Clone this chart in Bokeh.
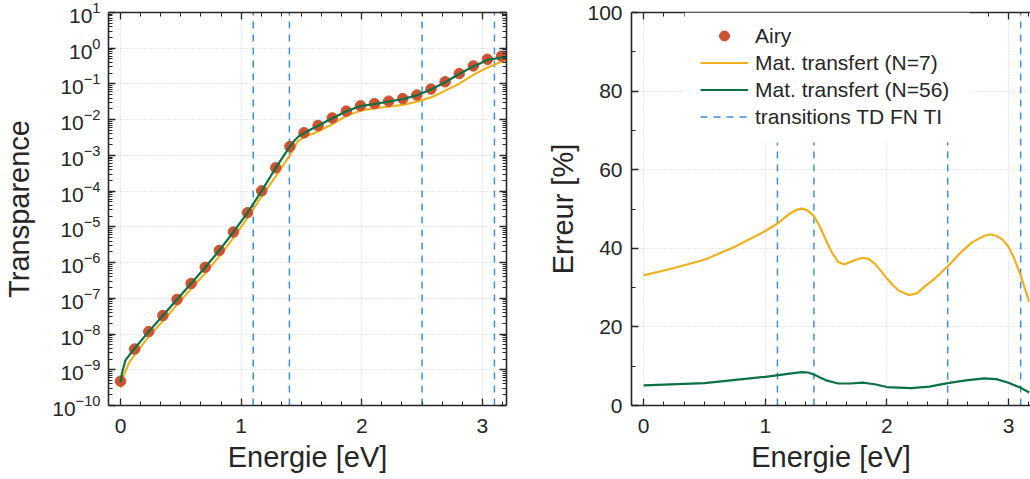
from bokeh.plotting import figure
from bokeh.models import (ColumnDataSource, FixedTicker, LinearAxis, Legend, BoxAnnotation,
                          LegendItem, LogTickFormatter, Range1d, CustomJSTickFormatter)
from bokeh.layouts import row
from bokeh.embed import file_html
from bokeh.resources import INLINE

# ---------------- data ----------------
transitions = [1.1, 1.4, 2.5, 3.1]

airy_x = [0.000, 0.117, 0.234, 0.351, 0.468, 0.585, 0.702, 0.819, 0.936, 1.053,
          1.170, 1.287, 1.404, 1.521, 1.638, 1.755, 1.872, 1.989, 2.106, 2.223,
          2.340, 2.457, 2.574, 2.691, 2.808, 2.925, 3.042, 3.159]
airy_T = [4.8e-10, 3.8e-9, 1.17e-8, 3.3e-8, 9.3e-8, 2.6e-7, 7.4e-7, 2.2e-6, 7.2e-6, 2.5e-5,
          1.02e-4, 4.5e-4, 1.78e-3, 4.3e-3, 6.9e-3, 1.12e-2, 1.74e-2, 2.45e-2, 2.8e-2, 3.3e-2,
          3.9e-2, 4.9e-2, 7.2e-2, 0.115, 0.195, 0.32, 0.49, 0.60]

n56_x = [0.000, 0.014, 0.041, 0.117, 0.234, 0.351, 0.468, 0.585, 0.702, 0.819, 0.936, 1.053,
         1.170, 1.287, 1.404, 1.450, 1.480, 1.521, 1.580, 1.638, 1.755, 1.872, 1.989, 2.106,
         2.223, 2.340, 2.457, 2.574, 2.691, 2.808, 2.925, 3.042, 3.159, 3.200]
n56_T = [4.5e-10, 8.7e-10, 1.86e-9, 4.0e-9, 1.17e-8, 3.3e-8, 9.3e-8, 2.6e-7, 7.4e-7, 2.2e-6,
         7.2e-6, 2.5e-5, 1.02e-4, 4.5e-4, 1.78e-3, 2.8e-3, 3.5e-3, 4.2e-3, 5.4e-3, 6.8e-3,
         1.1e-2, 1.72e-2, 2.4e-2, 2.75e-2, 3.2e-2, 3.8e-2, 4.8e-2, 7.0e-2, 0.112, 0.19, 0.31,
         0.47, 0.55, 0.575]

n7_x = [0.000, 0.027, 0.068, 0.117, 0.234, 0.351, 0.468, 0.585, 0.702, 0.819, 0.936, 1.053,
        1.170, 1.287, 1.404, 1.470, 1.521, 1.638, 1.755, 1.872, 1.989, 2.106, 2.223, 2.340,
        2.457, 2.574, 2.691, 2.808, 2.925, 3.042, 3.159, 3.200]
n7_T = [3.1e-10, 7.1e-10, 1.5e-9, 2.6e-9, 8.5e-9, 2.3e-8, 6.6e-8, 1.86e-7, 5.1e-7, 1.5e-6,
        4.9e-6, 1.8e-5, 7.2e-5, 2.6e-4, 1.02e-3, 2.5e-3, 3.2e-3, 4.7e-3, 7.4e-3, 1.29e-2,
        1.78e-2, 2.1e-2, 2.3e-2, 2.6e-2, 3.2e-2, 4.2e-2, 6.5e-2, 0.102, 0.18, 0.29, 0.42, 0.45]

err7_x = [0.0, 0.25, 0.5, 0.75, 1.0, 1.1, 1.2, 1.25, 1.3, 1.35, 1.4, 1.45, 1.5, 1.55, 1.6,
          1.65, 1.72, 1.8, 1.85, 1.9, 1.95, 2.0, 2.05, 2.1, 2.18, 2.25, 2.3, 2.4, 2.5, 2.6,
          2.7, 2.8, 2.85, 2.9, 2.95, 3.0, 3.05, 3.1, 3.17]
err7 = [33.1, 35.0, 37.1, 40.4, 44.4, 46.3, 48.8, 49.7, 50.1, 49.6, 48.2, 45.5, 42.0, 38.8, 36.5,
        35.9, 36.8, 37.6, 37.3, 36.1, 34.3, 32.3, 30.6, 29.2, 28.1, 28.6, 30.0, 32.5, 35.4, 38.7,
        41.5, 43.2, 43.5, 43.2, 42.2, 40.4, 37.2, 33.1, 26.4]

err56_x = [0.0, 0.5, 1.0, 1.2, 1.3, 1.35, 1.4, 1.45, 1.5, 1.6, 1.7, 1.8, 1.9, 2.0, 2.2, 2.35,
           2.5, 2.65, 2.8, 2.9, 3.0, 3.1, 3.17]
err56 = [5.1, 5.7, 7.3, 8.1, 8.5, 8.4, 7.9, 7.1, 6.4, 5.6, 5.6, 5.8, 5.4, 4.7, 4.4, 4.8,
         5.7, 6.4, 6.9, 6.7, 5.8, 4.5, 3.3]

T_lim = [1e-10, 1e1]
E_lim = [0, 100]
x_major = [0, 1, 2, 3]
x_minor = [k / 6 for k in range(-1, 20)]
log_major = [10.0 ** n for n in range(-10, 2)]
log_minor = [m * 10.0 ** n for n in range(-11, 2) for m in range(2, 10)]
err_major = [0, 20, 40, 60, 80, 100]
err_minor = [10, 30, 50, 70, 90]

# ---------------- style ----------------
FONT = "Liberation Sans"
TXT = "#262626"
C_AIRY = "#cc5230"
C_N7 = "#edb120"
C_N56 = "#0a7045"
C_TR = "#3f8fd6"
GRID = "#cfcfcf"
H = 479
B_TOP, B_BOT = 12, 74


def style_axis(ax, labels=True):
    ax.axis_line_color = TXT
    ax.axis_line_width = 1.6
    ax.major_tick_line_color = TXT
    ax.minor_tick_line_color = TXT
    ax.major_tick_line_width = 1.3
    ax.minor_tick_line_width = 1.0
    ax.major_tick_in = 7
    ax.major_tick_out = 0
    ax.minor_tick_in = 4
    ax.minor_tick_out = 0
    ax.major_label_text_font = FONT
    ax.major_label_text_color = TXT
    ax.major_label_text_font_size = "21px"
    ax.axis_label_text_font = FONT
    ax.axis_label_text_color = TXT
    ax.axis_label_text_font_size = "29px"
    ax.axis_label_text_font_style = "normal"
    if not labels:
        ax.formatter = CustomJSTickFormatter(code="return ''")
        ax.major_label_standoff = 0
        ax.axis_label = None


def style_fig(p):
    p.outline_line_color = None
    p.background_fill_color = "white"
    p.border_fill_color = "white"
    for g in p.xgrid + p.ygrid:
        g.grid_line_color = GRID
        g.grid_line_dash = "1 2"
        g.grid_line_width = 1


# ---------------- left panel ----------------
p1 = figure(width=531, height=H, y_axis_type="log",
            x_range=Range1d(-0.1, 3.2), y_range=Range1d(T_lim[0], T_lim[1]),
            output_backend="svg", toolbar_location=None,
            min_border_left=105, min_border_right=25, min_border_top=B_TOP,
            min_border_bottom=B_BOT)
style_fig(p1)
p1.xaxis.ticker = FixedTicker(ticks=x_major, minor_ticks=x_minor)
p1.yaxis.ticker = FixedTicker(ticks=log_major, minor_ticks=log_minor)
p1.yaxis.formatter = LogTickFormatter()
p1.xgrid.ticker = FixedTicker(ticks=x_major)
p1.ygrid.ticker = FixedTicker(ticks=log_major)
p1.xaxis.axis_label = "Energie [eV]"
p1.yaxis.axis_label = "Transparence"
for ax in p1.xaxis + p1.yaxis:
    style_axis(ax)
p1.xaxis.major_label_standoff = 13
p1.yaxis.major_label_standoff = 8
p1.xaxis.axis_label_standoff = 5
p1.yaxis.axis_label_standoff = 14

top1 = LinearAxis(ticker=FixedTicker(ticks=x_major, minor_ticks=x_minor))
style_axis(top1, labels=False)
p1.add_layout(top1, "above")
right1 = LinearAxis(ticker=FixedTicker(ticks=log_major, minor_ticks=log_minor))
style_axis(right1, labels=False)
p1.add_layout(right1, "right")

tr_src1 = ColumnDataSource(dict(x=transitions, y0=[T_lim[0]] * len(transitions),
                                y1=[T_lim[1]] * len(transitions)))
p1.segment(x0="x", x1="x", y0="y0", y1="y1", source=tr_src1,
           line_color=C_TR, line_width=1.5, line_dash="7 6")
p1.line(n7_x, n7_T, line_color=C_N7, line_width=2.2)
p1.scatter(airy_x, airy_T, size=10.5, fill_color=C_AIRY, line_color=C_AIRY)
p1.line(n56_x, n56_T, line_color=C_N56, line_width=2.2)

# ---------------- right panel ----------------
p2 = figure(width=499, height=H,
            x_range=Range1d(-0.1, 3.181), y_range=Range1d(E_lim[0], E_lim[1]),
            output_backend="svg", toolbar_location=None,
            min_border_left=100, min_border_right=0, min_border_top=B_TOP,
            min_border_bottom=B_BOT)
style_fig(p2)
p2.xaxis.ticker = FixedTicker(ticks=x_major, minor_ticks=x_minor)
p2.yaxis.ticker = FixedTicker(ticks=err_major, minor_ticks=err_minor)
p2.xgrid.ticker = FixedTicker(ticks=x_major)
p2.ygrid.ticker = FixedTicker(ticks=err_major)
p2.xaxis.axis_label = "Energie [eV]"
p2.yaxis.axis_label = "Erreur [%]"
for ax in p2.xaxis + p2.yaxis:
    style_axis(ax)
p2.xaxis.major_label_standoff = 13
p2.yaxis.major_label_standoff = 9
p2.xaxis.axis_label_standoff = 5
p2.yaxis.axis_label_standoff = 5

top2 = LinearAxis(ticker=FixedTicker(ticks=x_major, minor_ticks=x_minor))
style_axis(top2, labels=False)
p2.add_layout(top2, "above")

tr_src2 = ColumnDataSource(dict(x=transitions, y0=[E_lim[0]] * len(transitions),
                                y1=[E_lim[1]] * len(transitions)))
r_tr = p2.segment(x0="x", x1="x", y0="y0", y1="y1", source=tr_src2,
                  line_color=C_TR, line_width=1.5, line_dash="7 6")
r_n7 = p2.line(err7_x, err7, line_color=C_N7, line_width=2.2)
r_n56 = p2.line(err56_x, err56, line_color=C_N56, line_width=2.2)
# legend proxy for the Airy series (not drawn: NaN position)
r_airy = p2.scatter(x=[float("nan")], y=[float("nan")], size=10.5,
                    fill_color=C_AIRY, line_color=C_AIRY)

# opaque white panel behind the legend (hides the lines and grid there)
legend_bg = BoxAnnotation(left=0.337, right=2.68, bottom=66.9, top=E_lim[1],
                          fill_color="white", fill_alpha=1.0, line_color=None,
                          level="annotation", propagate_hover=False)
p2.add_layout(legend_bg)

legend = Legend(items=[
    LegendItem(label="Airy", renderers=[r_airy]),
    LegendItem(label="Mat. transfert (N=7)", renderers=[r_n7]),
    LegendItem(label="Mat. transfert (N=56)", renderers=[r_n56]),
    LegendItem(label="transitions TD FN TI", renderers=[r_tr]),
], location=(69, 276))
legend.level = "overlay"
legend.border_line_color = None
legend.background_fill_color = "white"
legend.background_fill_alpha = 1.0
legend.label_text_font = FONT
legend.label_text_font_size = "21px"
legend.label_text_color = TXT
legend.glyph_width = 48
legend.glyph_height = 25
legend.label_height = 25
legend.spacing = 2
legend.padding = 12
legend.margin = 0
legend.label_standoff = 7
p2.add_layout(legend, "center")

layout = row(p1, p2)
open("out.html", "w").write(file_html(layout, INLINE))
